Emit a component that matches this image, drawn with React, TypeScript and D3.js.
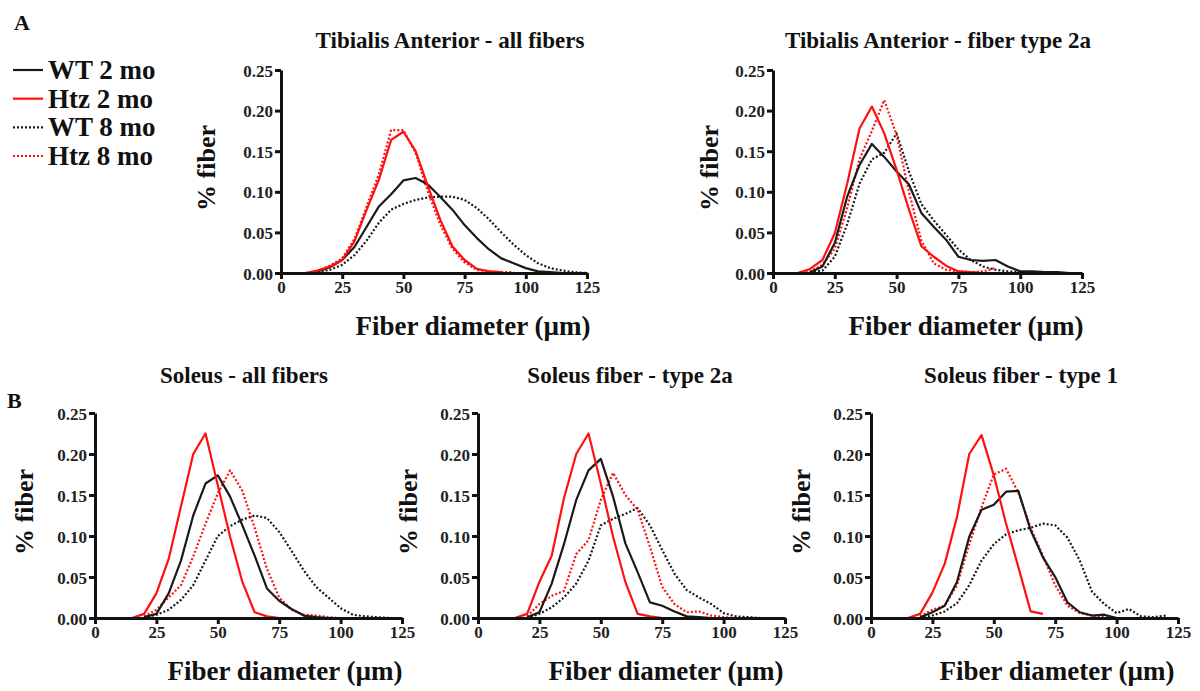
import { useEffect, useRef } from "react";
import * as d3 from "d3";

// fiber diameter bins (µm)
const bins = [10, 15, 20, 25, 30, 35, 40, 45, 50, 55, 60, 65, 70, 75, 80, 85, 90, 95, 100, 105, 110, 115, 120, 125];
const xTicks = [0, 25, 50, 75, 100, 125];
const yTicks = [0, 0.05, 0.1, 0.15, 0.2, 0.25];

const _ = null;

// Tibialis Anterior - all fibers
const taAllWt2 = [_, .002, .007, .016, .032, .057, .082, .097, .114, .117, .109, .094, .078, .059, .043, .029, .018, .012, .006, .002, .001, 0, _, _];
const taAllHtz2 = [0, .003, .008, .016, .039, .078, .115, .164, .174, .150, .107, .066, .033, .016, .005, .002, .001, _, _, _, _, _, _, _];
const taAllWt8 = [_, .001, .004, .010, .022, .040, .062, .078, .085, .090, .093, .094, .094, .090, .080, .066, .050, .035, .022, .012, .006, .003, .001, 0];
const taAllHtz8 = [0, .003, .009, .018, .042, .082, .122, .176, .176, .148, .100, .060, .030, .013, .004, .002, .001, .001, _, _, _, _, _, _];

// Tibialis Anterior - fiber type 2a
const ta2aWt2 = [_, .001, .008, .037, .094, .133, .159, .143, .125, .109, .074, .057, .041, .020, .016, .015, .016, .008, .002, .002, .001, .001, 0, _];
const ta2aHtz2 = [0, .005, .016, .049, .110, .178, .205, .172, .127, .078, .033, .020, .009, .002, .001, 0, _, _, _, _, _, _, _, _];
const ta2aWt8 = [_, .001, .003, .020, .060, .110, .140, .148, .172, .125, .085, .065, .047, .029, .016, .008, .004, .002, .001, _, _, _, _, _];
const ta2aHtz8 = [0, .002, .010, .030, .080, .140, .175, .213, .170, .100, .040, .012, .004, .002, .001, .002, .006, _, _, _, _, _, _, _];

// Soleus - all fibers
const solAllWt2 = [_, _, .001, .005, .030, .070, .125, .164, .174, .148, .113, .076, .036, .021, .011, .003, .001, 0, _, _, _, _, _, _];
const solAllHtz2 = [_, 0, .005, .030, .072, .136, .200, .225, .162, .099, .044, .007, .002, 0, _, _, _, _, _, _, _, _, _, _];
const solAllWt8 = [_, _, .001, .004, .010, .022, .040, .070, .100, .112, .120, .125, .122, .105, .082, .058, .038, .025, .012, .004, .002, .001, 0, _];
const solAllHtz8 = [_, _, .002, .010, .025, .040, .075, .115, .152, .180, .155, .110, .060, .025, .010, .004, .003, .001, 0, _, _, _, _, _];

// Soleus fiber - type 2a
const sol2aWt2 = [_, _, .001, .007, .042, .090, .144, .180, .194, .148, .091, .056, .019, .015, .008, .002, .001, 0, _, _, _, _, _, _];
const sol2aHtz2 = [_, 0, .005, .044, .076, .146, .200, .225, .164, .099, .044, .005, .002, 0, _, _, _, _, _, _, _, _, _, _];
const sol2aWt8 = [_, _, 0, .005, .013, .025, .042, .070, .113, .121, .127, .134, .113, .083, .054, .034, .025, .017, .006, .002, .001, 0, _, _];
const sol2aHtz8 = [_, _, .002, .017, .027, .033, .078, .095, .144, .177, .150, .132, .087, .038, .017, .007, .008, .003, .001, 0, _, _, _, _];

// Soleus fiber - type 1
const sol1Wt2 = [_, _, .001, .007, .015, .044, .099, .132, .138, .154, .155, .107, .074, .050, .019, .007, .003, .004, 0, _, _, _, _, _];
const sol1Htz2 = [_, 0, .005, .031, .066, .123, .200, .223, .174, .115, .062, .008, .005, _, _, _, _, _, _, _, _, _, _, _];
const sol1Wt8 = [_, _, 0, .003, .008, .018, .040, .070, .090, .102, .107, .110, .115, .113, .098, .070, .032, .017, .006, .011, .002, .001, .003, _];
const sol1Htz8 = [_, _, .002, .010, .015, .040, .090, .135, .175, .182, .153, .110, .076, .040, .015, .006, .003, .001, 0, _, _, _, _, _];

const legendNames = ["WT 2 mo", "Htz 2 mo", "WT 8 mo", "Htz 8 mo"];
const seriesStyle = [
  { color: "#1a1a1a", dash: null },
  { color: "#ff1010", dash: null },
  { color: "#1a1a1a", dash: "2,2" },
  { color: "#ff1010", dash: "2,2" },
];

const panels = [
  { title: "Tibialis Anterior - all fibers", series: [taAllWt2, taAllHtz2, taAllWt8, taAllHtz8], x0: 281, x1: 587, yTop: 70, yBot: 273, titleX: 450, titleY: 48, yLabX: 215, yLabY: 168, xLabX: 473, xLabY: 335 },
  { title: "Tibialis Anterior - fiber type 2a", series: [ta2aWt2, ta2aHtz2, ta2aWt8, ta2aHtz8], x0: 773, x1: 1082, yTop: 70, yBot: 273, titleX: 938, titleY: 48, yLabX: 718, yLabY: 168, xLabX: 966, xLabY: 335 },
  { title: "Soleus - all fibers", series: [solAllWt2, solAllHtz2, solAllWt8, solAllHtz8], x0: 95, x1: 402, yTop: 413, yBot: 618, titleX: 244, titleY: 383, yLabX: 33, yLabY: 512, xLabX: 285, xLabY: 680 },
  { title: "Soleus fiber - type 2a", series: [sol2aWt2, sol2aHtz2, sol2aWt8, sol2aHtz8], x0: 478, x1: 785, yTop: 413, yBot: 618, titleX: 630, titleY: 383, yLabX: 417, yLabY: 512, xLabX: 666, xLabY: 680 },
  { title: "Soleus fiber - type 1", series: [sol1Wt2, sol1Htz2, sol1Wt8, sol1Htz8], x0: 871, x1: 1178, yTop: 413, yBot: 618, titleX: 1021, titleY: 383, yLabX: 810, yLabY: 512, xLabX: 1057, xLabY: 680 },
];

const font = "Liberation Serif, DejaVu Serif, serif";

export default function App() {
  const svgRef = useRef<SVGSVGElement>(null);

  useEffect(() => {
    if (!svgRef.current) return;
    const svg = d3.select(svgRef.current);
    svg.selectAll("*").remove();

    panels.forEach((p) => {
      const x = d3.scaleLinear().domain([0, 125]).range([p.x0, p.x1]);
      const y = d3.scaleLinear().domain([0, 0.25]).range([p.yBot, p.yTop]);
      const g = svg.append("g");

      const line = d3
        .line<number | null>()
        .defined((d) => d !== null)
        .x((_d, i) => x(bins[i]))
        .y((d) => y(d as number));

      // dotted first, solid on top
      [2, 3, 0, 1].forEach((si) => {
        const st = seriesStyle[si];
        g.append("path")
          .attr("d", line(p.series[si]) ?? "")
          .attr("fill", "none")
          .attr("stroke", st.color)
          .attr("stroke-width", 2.2)
          .attr("stroke-linejoin", "round")
          .attr("stroke-dasharray", st.dash);
      });

      const xAxis = g
        .append("g")
        .attr("transform", `translate(0,${p.yBot})`)
        .call(d3.axisBottom(x).tickValues(xTicks).tickSize(6).tickSizeOuter(0).tickPadding(2));
      const yAxis = g
        .append("g")
        .attr("transform", `translate(${p.x0},0)`)
        .call(d3.axisLeft(y).tickValues(yTicks).tickFormat(d3.format(".2f")).tickSize(6).tickSizeOuter(0).tickPadding(2));

      [xAxis, yAxis].forEach((a) => {
        a.attr("font-family", font).attr("font-size", 17).attr("font-weight", "bold");
        a.select(".domain").attr("stroke", "#111").attr("stroke-width", 3);
        a.selectAll(".tick line").attr("stroke", "#111").attr("stroke-width", 3);
        a.selectAll(".tick text").attr("fill", "#222");
      });
      yAxis.selectAll(".tick text").attr("dy", "0.36em");

      g.append("text")
        .attr("x", p.titleX)
        .attr("y", p.titleY)
        .attr("text-anchor", "middle")
        .attr("font-family", font)
        .attr("font-weight", "bold")
        .attr("font-size", 23)
        .attr("fill", "#111")
        .text(p.title);

      g.append("text")
        .attr("x", p.xLabX)
        .attr("y", p.xLabY)
        .attr("text-anchor", "middle")
        .attr("font-family", font)
        .attr("font-weight", "bold")
        .attr("font-size", 27)
        .attr("fill", "#111")
        .text("Fiber diameter (µm)");

      g.append("text")
        .attr("transform", `translate(${p.yLabX},${p.yLabY}) rotate(-90)`)
        .attr("text-anchor", "middle")
        .attr("font-family", font)
        .attr("font-weight", "bold")
        .attr("font-size", 26)
        .attr("fill", "#111")
        .text("% fiber");
    });

    // panel letters
    [
      { t: "A", x: 14, y: 30 },
      { t: "B", x: 7, y: 408 },
    ].forEach((l) =>
      svg
        .append("text")
        .attr("x", l.x)
        .attr("y", l.y)
        .attr("font-family", font)
        .attr("font-weight", "bold")
        .attr("font-size", 22)
        .attr("fill", "#111")
        .text(l.t)
    );

    // legend
    const legend = svg.append("g");
    const rowY = d3.scalePoint<string>().domain(legendNames).range([70, 156]);
    legendNames.forEach((name, i) => {
      const st = seriesStyle[i];
      const yy = rowY(name) as number;
      legend
        .append("line")
        .attr("x1", 13)
        .attr("x2", 43)
        .attr("y1", yy)
        .attr("y2", yy)
        .attr("stroke", st.color)
        .attr("stroke-width", 2.2)
        .attr("stroke-dasharray", st.dash);
      legend
        .append("text")
        .attr("x", 48)
        .attr("y", yy + 9)
        .attr("font-family", font)
        .attr("font-weight", "bold")
        .attr("font-size", 27)
        .attr("fill", "#111")
        .text(name);
    });
  }, []);

  return (
    <svg
      ref={svgRef}
      width={1200}
      height={691}
      style={{ position: "absolute", left: 0, top: 0, background: "#fff" }}
    />
  );
}
